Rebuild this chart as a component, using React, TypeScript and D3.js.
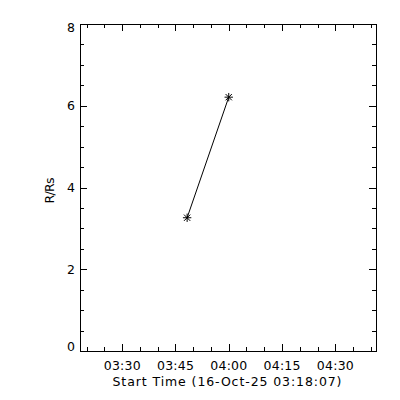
import React from "react";
import * as d3 from "d3";

const startLabel = "16-Oct-25 03:18:07";
const xDomain = ["2025-10-16T03:18:07Z", "2025-10-16T04:41:28Z"];
const pointTimes = ["2025-10-16T03:48:17Z", "2025-10-16T04:00:00Z"];
const pointValues = [3.26, 6.21];
const yMajorTicks = [0, 2, 4, 6, 8];
const yMinorTicks = [0.5, 1, 1.5, 2.5, 3, 3.5, 4.5, 5, 5.5, 6.5, 7, 7.5];

const W = 400, H = 400;
const L = 80, R = 376, T = 24, B = 351;
const FONT = "DejaVu Sans, sans-serif";
const FS = 12.5;

export default function App() {
  const x = d3.scaleUtc().domain(xDomain.map((d) => new Date(d))).range([L, R]);
  const y = d3.scaleLinear().domain([0, 8]).range([B, T]);
  const xMajor = x.ticks(d3.utcMinute.every(15)!);
  const xMinor = x.ticks(d3.utcMinute.every(5)!).filter((t) => t.getUTCMinutes() % 15 !== 0);
  const fmt = d3.utcFormat("%H:%M");
  const pts = pointTimes.map((t, i) => [x(new Date(t)), y(pointValues[i])] as [number, number]);
  const line = d3.line()(pts) || "";
  const px = (v: number) => Math.round(v) + 0.5;
  const star = (cx: number, cy: number, r = 4.2) => {
    const d = r * 0.75;
    return `M${cx - r},${cy}H${cx + r}M${cx},${cy - r}V${cy + r}M${cx - d},${cy - d}L${cx + d},${cy + d}M${cx - d},${cy + d}L${cx + d},${cy - d}`;
  };
  return (
    <svg width={W} height={H} style={{ position: "absolute", left: 0, top: 0, background: "#fff" }}>
      <rect x={0} y={0} width={W} height={H} fill="#fff" />
      <g stroke="#000" strokeWidth={1} fill="none" shapeRendering="crispEdges">
        <rect x={L + 0.5} y={T + 0.5} width={R - L} height={B - T} />
        {xMajor.map((t, i) => (
          <g key={"xm" + i}>
            <line x1={px(x(t))} x2={px(x(t))} y1={B} y2={B - 7} />
            <line x1={px(x(t))} x2={px(x(t))} y1={T} y2={T + 7} />
          </g>
        ))}
        {xMinor.map((t, i) => (
          <g key={"xn" + i}>
            <line x1={px(x(t))} x2={px(x(t))} y1={B} y2={B - 4} />
            <line x1={px(x(t))} x2={px(x(t))} y1={T} y2={T + 4} />
          </g>
        ))}
        {yMajorTicks.map((v, i) => (
          <g key={"ym" + i}>
            <line x1={L} x2={L + 7} y1={px(y(v))} y2={px(y(v))} />
            <line x1={R} x2={R - 7} y1={px(y(v))} y2={px(y(v))} />
          </g>
        ))}
        {yMinorTicks.map((v, i) => (
          <g key={"yn" + i}>
            <line x1={L} x2={L + 4} y1={px(y(v))} y2={px(y(v))} />
            <line x1={R} x2={R - 4} y1={px(y(v))} y2={px(y(v))} />
          </g>
        ))}
      </g>
      <path d={line} stroke="#000" strokeWidth={1} fill="none" />
      {pts.map((p, i) => (
        <path key={"s" + i} d={star(p[0], p[1])} stroke="#000" strokeWidth={1} fill="none" />
      ))}
      <g fontFamily={FONT} fontSize={FS} fill="#000">
        {xMajor.map((t, i) => (
          <text key={"xl" + i} x={x(t)} y={370} textAnchor="middle" textLength={37} lengthAdjust="spacing">{fmt(t)}</text>
        ))}
        {yMajorTicks.map((v, i) => (
          <text key={"yl" + i} x={75} y={Math.min(Math.max(y(v) + 4.5, 31.5), 351)} textAnchor="end">{v}</text>
        ))}
        <text x={227} y={386} textAnchor="middle" textLength={229} lengthAdjust="spacing">{`Start Time (${startLabel})`}</text>
        <text transform={`translate(54,${(T + B) / 2 + 3}) rotate(-90)`} textAnchor="middle" textLength={26} lengthAdjust="spacing">R/Rs</text>
      </g>
    </svg>
  );
}
